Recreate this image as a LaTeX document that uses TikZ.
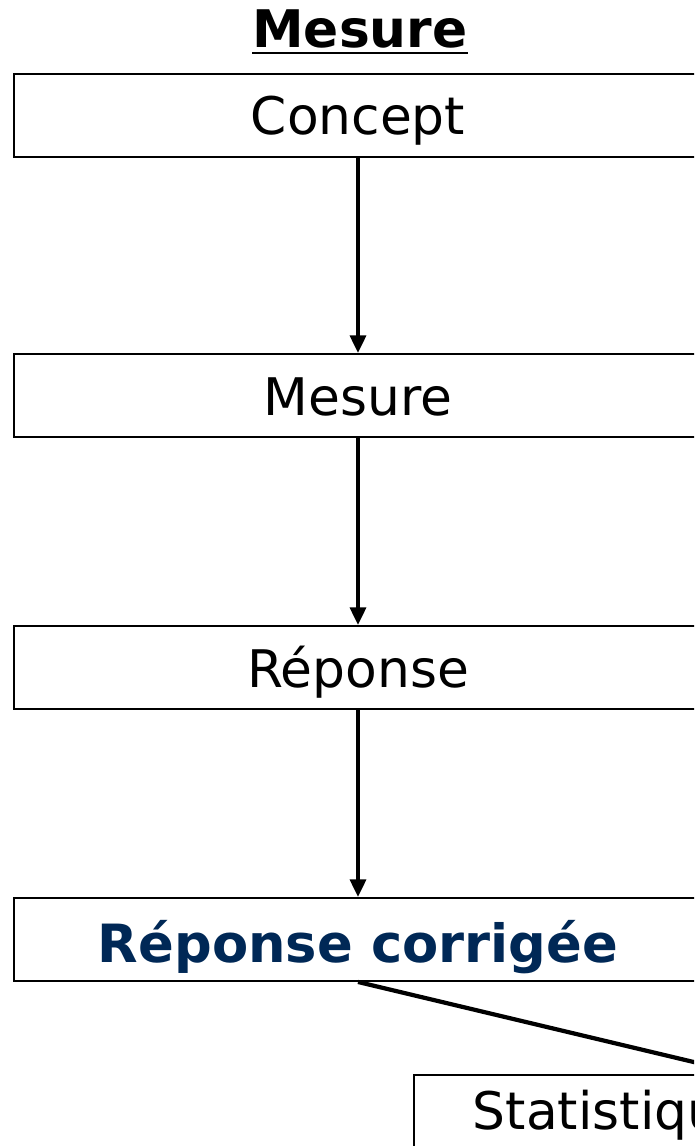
\documentclass[tikz,border=0pt]{standalone}
\usepackage{fontspec}
\setmainfont{DejaVu Sans}
\usepackage{xcolor}
\usepackage{tikz}
\usetikzlibrary{arrows.meta}
\definecolor{corrBlue}{RGB}{0,40,86}
\tikzset{
  etape/.style={draw, line width=1.1pt, minimum width=13.76cm, minimum height=1.66cm,
    inner sep=0pt, text height=1cm, text depth=0.22cm, font=\fontsize{29.5}{34}\selectfont},
  fleche/.style={-{Triangle[width=9pt,length=10pt]}, line width=2.1pt},
}
\begin{document}
\begin{tikzpicture}[x=0.02cm, y=-0.02cm]
  \clip (0,0) rectangle (694,1146);
  \useasboundingbox (0,0) rectangle (694,1146);
  % titre
  \node[anchor=base, inner sep=0pt, font=\fontsize{29.5}{34}\selectfont\bfseries] (titre) at (360,48) {Mesure};
  \draw[line width=1.5pt] ([yshift=-0.1cm]titre.base west) -- ([yshift=-0.1cm]titre.base east);
  % etapes
  \node[etape] (concept) at (358,115.5) {Concept};
  \node[etape] (mesure) at (358,395.5) {Mesure};
  \node[etape] (reponse) at (358,667.5) {Réponse};
  \node[etape, font=\fontsize{30}{34}\selectfont\bfseries, text=corrBlue,
    text height=1.1cm, text depth=0.2cm] (corrigee) at (358,939.5) {Réponse corrigée};
  \node[etape, anchor=north west, align=left, text width=12cm, inner xsep=1.18cm,
    text height=1.1cm, text depth=0.6cm] (stat) at (413,1074) {Statistiques};
  \coordinate (statHaut) at (744,1074);
  % liens
  \draw[fleche] (concept) -- (mesure);
  \draw[fleche] (mesure) -- (reponse);
  \draw[fleche] (reponse) -- (corrigee);
  \draw[line width=2.4pt] (corrigee.south) -- (statHaut);
\end{tikzpicture}
\end{document}
